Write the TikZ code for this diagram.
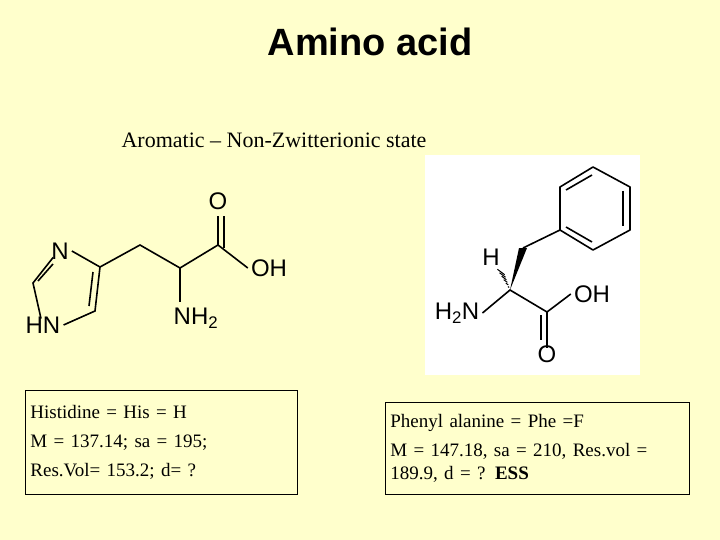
\documentclass[tikz,border=0pt]{standalone}
\usepackage{fontspec}
\usetikzlibrary{calc}
\setmainfont{Liberation Serif}
\newfontfamily\arial{Liberation Sans}
\definecolor{bg}{HTML}{FFFFCC}
\begin{document}
\begin{tikzpicture}[x=1pt,y=-1pt,
  bnd/.style={line width=1.6pt},
  atom/.style={font=\arial\fontsize{24}{26}\selectfont, inner sep=0pt},
  infobox/.style={draw, line width=0.8pt, fill=bg, anchor=north west, align=left, font=\fontsize{19}{23}\selectfont, inner sep=5pt}]
\fill[bg] (0,0) rectangle (720,540);
\useasboundingbox (0,0) rectangle (720,540);
\node[font=\arial\bfseries\fontsize{38}{42}\selectfont] (title) at (370,42) {Amino acid};
\node[font=\fontsize{22}{26}\selectfont] (sub) at (274,140) {Aromatic -- Non-Zwitterionic state};
% Histidine
\node[atom] (hN3) at (60,251) {N};
\node[atom] (hN1) at (43,325) {HN};
\node[atom] (hNH2) at (196,318) {NH\textsubscript{2}};
\node[atom] (hO) at (218,201) {O};
\node[atom] (hOH) at (269,268) {OH};
\coordinate (c2) at (33,283);
\coordinate (c4) at (100,267);
\coordinate (c5) at (95,311);
\coordinate (cb) at (140,245);
\coordinate (ca) at (180,268);
\coordinate (cc) at (218,245);
\draw[bnd] ([xshift=3pt]hN3.east) -- (c4) -- (c5) -- ([xshift=3pt]hN1.east);
\draw[bnd] ([xshift=-2pt,yshift=-2pt]hN1.north) -- (c2) -- ([xshift=2pt,yshift=2pt]hN3.south west);
\draw[bnd] (38,281) -- (53,264);
\draw[bnd] (93,272) -- (89,306);
\draw[bnd] (c4) -- (cb) -- (ca) -- (cc) -- ([xshift=-3pt]hOH.west);
\draw[bnd] (ca) -- (180,302);
\draw[bnd] (cc) -- (218,216);
\draw[bnd] (224,248) -- (224,216);
% Phenylalanine
\node[fill=white, minimum width=215pt, minimum height=220pt, inner sep=0pt] (pbox) at (532.5,265) {};
\coordinate (b1) at (593,167);
\coordinate (b2) at (630,187);
\coordinate (b3) at (630,230);
\coordinate (b4) at (593,250);
\coordinate (b5) at (560,230);
\coordinate (b6) at (560,187);
\draw[bnd, line join=round] (b1) -- (b2) -- (b3) -- (b4) -- (b5) -- (b6) -- cycle;
\draw[bnd] (592,175) -- (566,190);
\draw[bnd] (623,191) -- (623,226);
\draw[bnd] (592,242) -- (566,227);
\coordinate (pcb) at (523,248);
\coordinate (pca) at (510,290);
\coordinate (pcc) at (547,312);
\coordinate (ph) at (500,270);
\node[atom] (pH) at (491,257) {H};
\node[atom] (pNH2) at (457,313) {H\textsubscript{2}N};
\node[atom] (pOH) at (592,294) {OH};
\node[atom] (pO) at (547,354) {O};
\draw[bnd] (b5) -- (pcb);
\fill (pca) -- ([xshift=-4pt]pcb) -- ([xshift=4pt]pcb) -- cycle;
\foreach \t in {0.15,0.3,0.45,0.6,0.75,0.9}
  \draw[line width=1pt] ($(pca)!\t!(ph)+(-\t*4,-\t*3)$) -- ($(pca)!\t!(ph)+(\t*4,\t*3)$);
\draw[bnd] ([xshift=3pt]pNH2.east) -- (pca) -- (pcc) -- ([xshift=-3pt]pOH.west);
\draw[bnd] (pcc) -- ([yshift=-3pt]pO.north);
\draw[bnd] (541,315) -- (541,340);
% info boxes
\node[infobox, minimum width=272pt, minimum height=104pt, text width=262pt] (his) at (25,390)
 {Histidine = His = H\\[6pt] M = 137.14; sa = 195;\\[6pt] Res.Vol= 153.2; d= ?};
\node[infobox, minimum width=304pt, minimum height=92pt, text width=294pt] (phe) at (385,402)
 {Phenyl alanine = Phe =F\\[6pt] M = 147.18, sa = 210, Res.vol =\\ 189.9, d = ? \textbf{ESS}};
\end{tikzpicture}
\end{document}
